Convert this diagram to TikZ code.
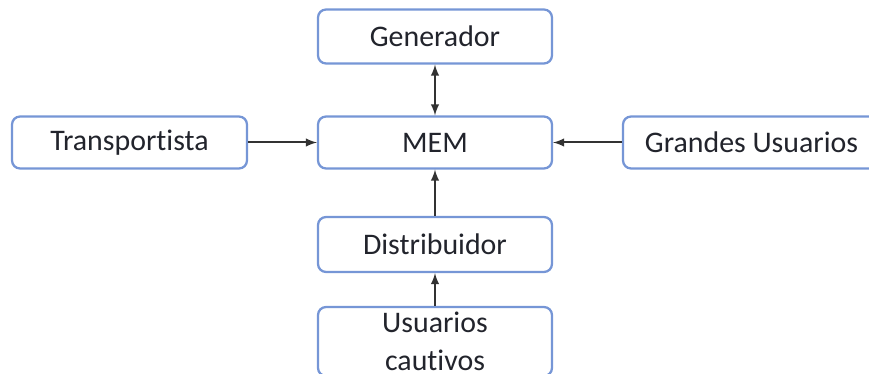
\documentclass[tikz,border=0pt]{standalone}
\usepackage{fontspec}
\setmainfont{Carlito}[Ligatures=NoCommon]
\usepackage{tikz}
\usetikzlibrary{arrows}
\usepackage{xcolor}
\definecolor{boxblue}{RGB}{118,150,214}
\definecolor{txtgray}{RGB}{34,36,44}
\definecolor{arrgray}{RGB}{50,50,50}

\tikzset{
	entidad/.style={draw=boxblue, line width=0.45mm, rounded corners=0.16cm, fill=white, text=txtgray, font=\fontsize{17}{21.4}\selectfont, align=center, inner sep=0pt},
	flecha/.style={-latex, arrgray, line width=0.4mm}
}

\begin{document}
\begin{tikzpicture}[x=0.02cm, y=-0.02cm]
	\clip (0,0) rectangle (869,374);
	\node[entidad, minimum width=4.68cm, minimum height=1.08cm] (gen) at (435,36.5) {Generador};
	\node[entidad, minimum width=4.68cm, minimum height=1.04cm] (mem) at (435,142.5) {MEM};
	\node[entidad, minimum width=4.70cm, minimum height=1.04cm] (trans) at (129.5,142.5) {Transportista};
	\node[entidad, minimum width=5.14cm, minimum height=1.04cm] (grandes) at (751.5,142.5) {Grandes Usuarios};
	\node[entidad, minimum width=4.68cm, minimum height=1.10cm] (dist) at (435,244.5) {Distribuidor};
	\node[entidad, minimum width=4.68cm, minimum height=1.38cm] (cautivos) at (435,341.5) {Usuarios\\cautivos};
	
	\draw[flecha, latex-latex] (gen) -- (mem);
	\draw[flecha] (trans) -- (mem);
	\draw[flecha] (grandes) -- (mem);
	\draw[flecha] (dist) -- (mem);
	\draw[flecha] (cautivos) -- (dist);
\end{tikzpicture}
\end{document}
